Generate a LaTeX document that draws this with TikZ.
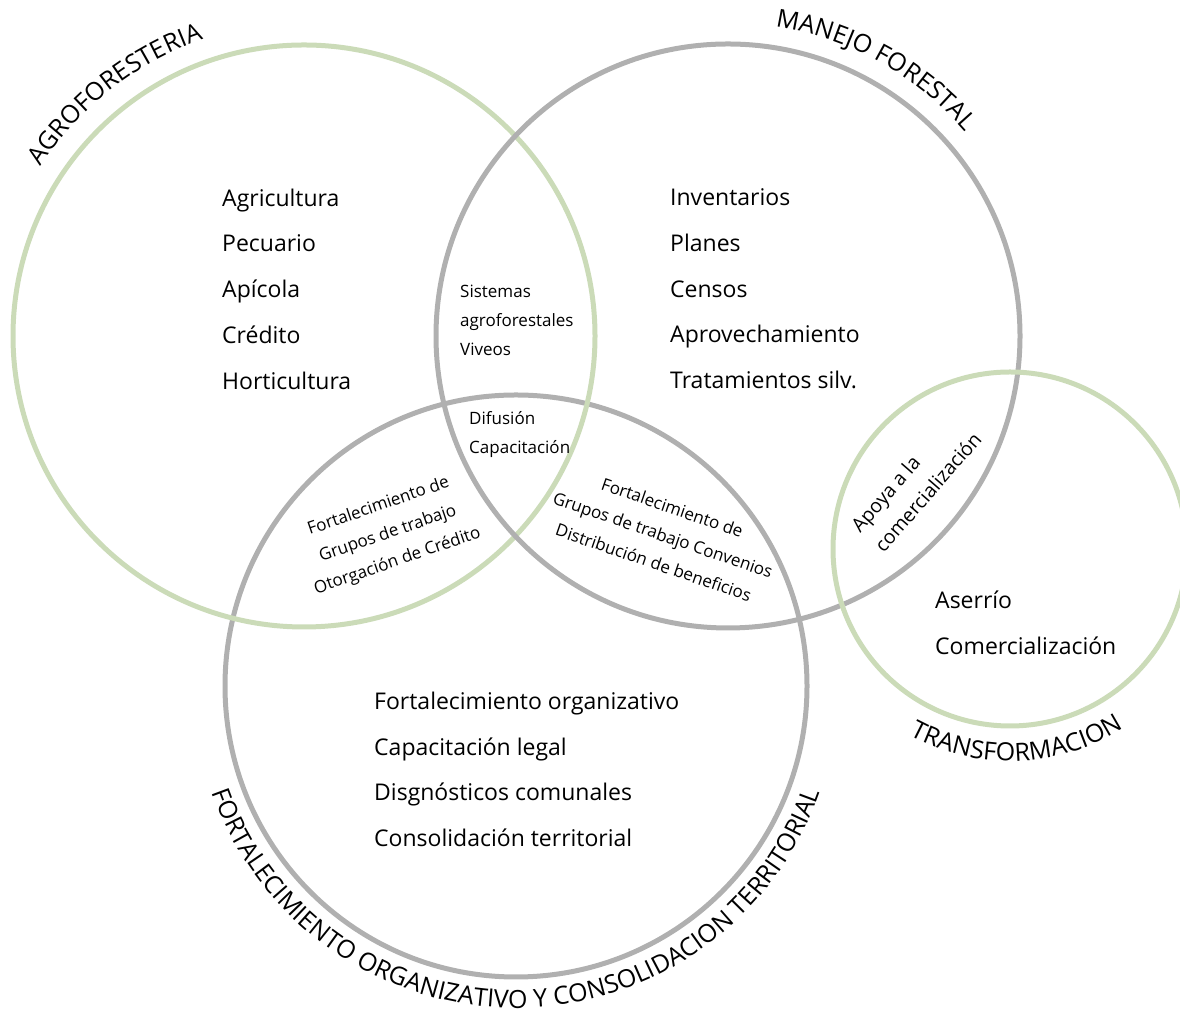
\documentclass[tikz,border=0pt]{standalone}
\usepackage{fontspec}
\setmainfont{Open Sans}
\usetikzlibrary{decorations.text,calc}
\definecolor{leaf}{RGB}{203,219,184}
\definecolor{ash}{RGB}{176,176,176}
\newcommand{\lblfont}{\fontsize{25}{25}\selectfont}
\begin{document}
\begin{tikzpicture}[x=1pt,y=1pt,
  ring/.style={line width=5pt},
  big/.style={font=\fontsize{23}{45.7}\selectfont, align=left, inner sep=0pt},
  small/.style={font=\fontsize{17}{29}\selectfont, inner sep=0pt},
  arclabel/.style={decorate, decoration={text along path, text align=center, text={|\lblfont|#1}}}
]
\useasboundingbox (0,0) rectangle (1180,1016);
\clip (0,0) rectangle (1180,1016);
\coordinate (cA) at (304,680);
\coordinate (cM) at (728,680);
\coordinate (cF) at (516,330);
\coordinate (cT) at (1010,467);
\draw[ring, ash] (cF) circle[radius=291];
\draw[ring, leaf] (cA) circle[radius=291];
\draw[ring, ash] (cM) circle[radius=292];
\draw[ring, leaf] (cT) circle[radius=177];

\path[arclabel={AGROFORESTERIA}] ($(cA)+(163:313)$) arc[start angle=163, end angle=93, radius=313];
\path[arclabel={MANEJO FORESTAL}] ($(cM)+(96:313)$) arc[start angle=96, end angle=26, radius=313];
\path[arclabel={TRANSFORMACION}] ($(cT)+(222:212)$) arc[start angle=222, end angle=322, radius=212];
\path[arclabel={FORTALECIMIENTO ORGANIZATIVO Y CONSOLIDACION TERRITORIAL}] ($(cF)+(180:322)$) arc[start angle=180, end angle=360, radius=322];

\node[big, anchor=west] (agl) at (222,727) {Agricultura\\Pecuario\\Apícola\\Crédito\\Horticultura};
\node[big, anchor=west] (mfl) at (670,727) {Inventarios\\Planes\\Censos\\Aprovechamiento\\Tratamientos silv.};
\node[big, anchor=west] (fol) at (374,246.5) {Fortalecimiento organizativo\\Capacitación legal\\Disgnósticos comunales\\Consolidación territorial};
\node[big, anchor=west] (trl) at (935,393) {Aserrío\\Comercialización};

\node[small, align=left, anchor=west] (sis) at (460,696) {Sistemas\\agroforestales\\Viveos};
\node[small, align=left, anchor=west] (dif) at (469,581.5) {Difusión\\Capacitación};

\node[small, align=center, rotate=19] (ovA) at (388,482) {Fortalecimiento de\\Grupos de trabajo\\Otorgación de Crédito};
\node[small, align=center, rotate=-19] (ovB) at (663,481) {Fortalecimiento de\\Grupos de trabajo Convenios\\Distribución de beneficios};
\node[small, font=\fontsize{19.5}{31}\selectfont, align=left, rotate=49] (ovC) at (916,534) {Apoya a la\\comercialización};
\end{tikzpicture}
\end{document}
